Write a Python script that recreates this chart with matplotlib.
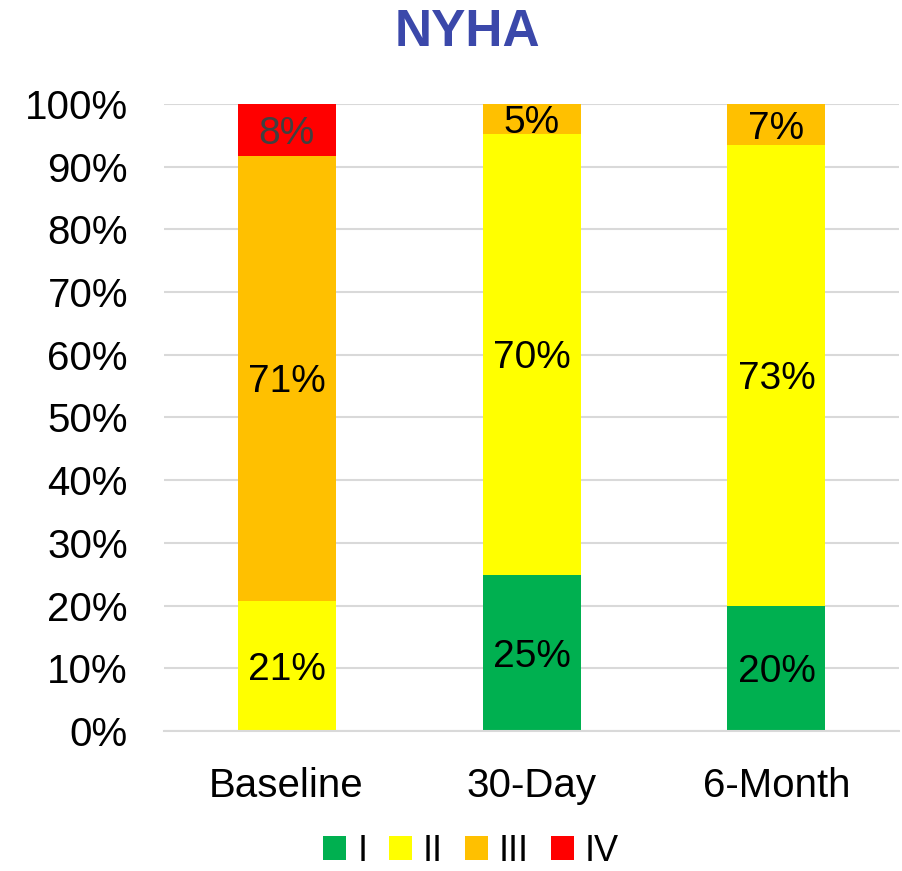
import matplotlib.pyplot as plt
import numpy as np

categories = ['Baseline', '30-Day', '6-Month']
series = ['I', 'II', 'III', 'IV']
class_i = [0.0, 24.9, 20.0]
class_ii = [20.8, 70.3, 73.4]
class_iii = [70.9, 4.8, 6.6]
class_iv = [8.3, 0.0, 0.0]
colors = ['#00B050', '#FFFF00', '#FFC000', '#FF0000']

plt.rcParams['font.family'] = ['Liberation Sans', 'DejaVu Sans']

fig = plt.figure(figsize=(9.02, 8.71), dpi=100)
ax = fig.add_axes([164 / 902, 140 / 871, 735 / 902, 627 / 871])

x = np.arange(len(categories))
bottom = np.zeros(len(categories))
for name, vals, col in zip(series, [class_i, class_ii, class_iii, class_iv], colors):
    vals = np.array(vals)
    ax.bar(x, vals, 0.4, bottom=bottom, color=col, label=name, zorder=2)
    for xi, v, b in zip(x, vals, bottom):
        if v > 0:
            tc = '#404040' if name == 'IV' else 'black'
            ax.text(xi, b + v / 2, '{:.0f}%'.format(v), ha='center', va='center_baseline',
                    fontsize=28, color=tc, zorder=3)
    bottom += vals

ax.set_xlim(-0.5, 2.5)
ax.set_ylim(0, 100)
ax.set_yticks(np.arange(0, 101, 10))
ax.set_yticklabels(['{}%'.format(t) for t in range(0, 101, 10)], fontsize=29)
ax.set_xticks(x)
ax.set_xticklabels(categories, fontsize=29)
ax.tick_params(length=0)
ax.tick_params(axis='y', pad=26)
ax.tick_params(axis='x', pad=26)
ax.grid(axis='y', color='#D9D9D9', linewidth=1.5, zorder=0)
for s in ['top', 'right', 'left']:
    ax.spines[s].set_visible(False)
ax.spines['bottom'].set_color('#D9D9D9')
ax.spines['bottom'].set_linewidth(1.5)

fig.text(467 / 902, 1 - 32 / 871, 'NYHA', ha='center', va='center', fontsize=37,
         color='#3B48AA', weight='bold')

fig.legend(loc='center', bbox_to_anchor=(471 / 902, 1 - 851 / 871), ncol=4, frameon=False,
           fontsize=26, handlelength=0.65, handleheight=0.65, handletextpad=0.3,
           columnspacing=0.6, borderpad=0.1)

fig.savefig('out.png', dpi=100)
